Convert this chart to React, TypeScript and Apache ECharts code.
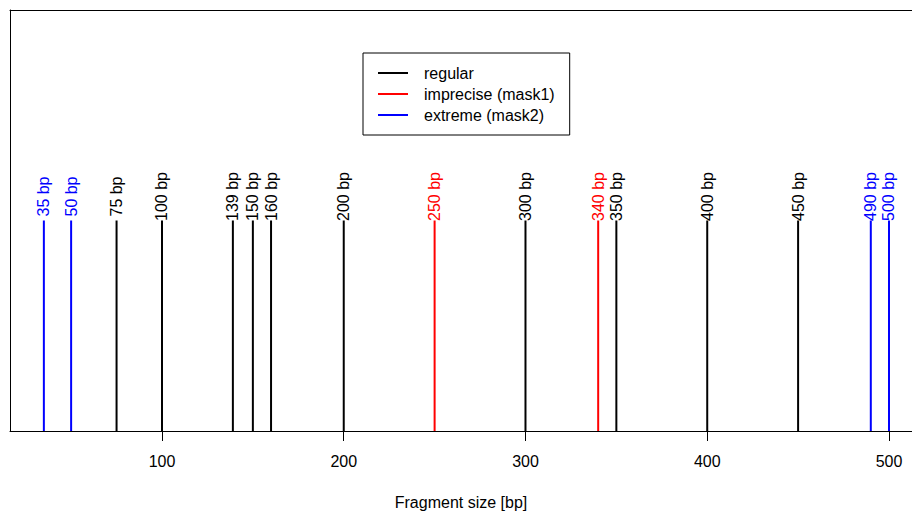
import React, { useEffect, useRef } from "react";
import * as echarts from "echarts";

const regularSizes = [75, 100, 139, 150, 160, 200, 300, 350, 400, 450];
const impreciseSizes = [250, 340];
const extremeSizes = [35, 50, 490, 500];
const markHeight = 1;
const tickValues = [100, 200, 300, 400, 500];
const seriesNames = ["regular", "imprecise (mask1)", "extreme (mask2)"];
const seriesColors = ["#000000", "#ff0000", "#0000ff"];
const FONT = '"Liberation Sans", Arial, Helvetica, sans-serif';
const X_MIN = 16.37;
const X_MAX = 512.67;

function makeSeries(name: string, color: string, sizes: number[]) {
  return {
    type: "custom",
    name,
    xAxisIndex: 0,
    yAxisIndex: 0,
    itemStyle: { color },
    data: sizes.map((s) => [s, markHeight]),
    renderItem: (params: any, api: any) => {
      const x = api.value(0);
      const top = api.coord([x, api.value(1)]);
      const base = api.coord([x, 0]);
      return {
        type: "group",
        children: [
          {
            type: "line",
            shape: { x1: base[0], y1: base[1], x2: top[0], y2: top[1] },
            style: { stroke: color, lineWidth: 2 },
          },
          {
            type: "text",
            x: top[0],
            y: top[1] - 24,
            rotation: Math.PI / 2,
            style: {
              text: `${x} bp`,
              fill: color,
              font: `16px ${FONT}`,
              align: "center",
              verticalAlign: "middle",
            },
          },
        ],
      };
    },
  };
}

export default function App() {
  const ref = useRef<HTMLDivElement>(null);
  useEffect(() => {
    if (!ref.current) return;
    const chart = echarts.init(ref.current, undefined, { renderer: "svg" });
    chart.setOption({
      animation: false,
      backgroundColor: "#ffffff",
      grid: {
        left: 10,
        top: 10,
        right: 0,
        bottom: 81,
        show: false,
      },
      legend: {
        orient: "vertical",
        left: 363,
        top: 53,
        padding: [12, 15, 12, 15],
        borderColor: "#000",
        borderWidth: 1,
        icon: "rect",
        itemWidth: 30,
        itemHeight: 2,
        itemGap: 5,
        selectedMode: false,
        data: seriesNames,
        textStyle: {
          color: "#000",
          fontSize: 16,
          fontFamily: FONT,
          lineHeight: 16,
          padding: [0, 0, 0, 11],
        },
      },
      xAxis: [
        {
          type: "value",
          position: "bottom",
          min: X_MIN,
          max: X_MAX,
          name: "Fragment size [bp]",
          nameLocation: "middle",
          nameGap: 63,
          nameTextStyle: { color: "#000", fontSize: 16, fontFamily: FONT },
          splitLine: { show: false },
          axisLine: { show: true, lineStyle: { color: "#000", width: 1 } },
          axisTick: {
            show: true,
            inside: false,
            length: 10,
            customValues: tickValues,
            lineStyle: { color: "#000", width: 1 },
          },
          axisLabel: {
            show: true,
            margin: 22,
            customValues: tickValues,
            color: "#000",
            fontSize: 16,
            fontFamily: FONT,
          },
        },
        {
          type: "value",
          position: "top",
          min: X_MIN,
          max: X_MAX,
          splitLine: { show: false },
          axisLine: { show: true, lineStyle: { color: "#000", width: 1 } },
          axisTick: { show: false },
          axisLabel: { show: false },
        },
      ],
      yAxis: {
        type: "value",
        min: 0,
        max: 2,
        position: "left",
        splitLine: { show: false },
        axisLine: { show: true, onZero: false, lineStyle: { color: "#000", width: 1 } },
        axisTick: { show: false },
        axisLabel: { show: false },
      },
      series: [
        makeSeries(seriesNames[0], seriesColors[0], regularSizes),
        makeSeries(seriesNames[1], seriesColors[1], impreciseSizes),
        makeSeries(seriesNames[2], seriesColors[2], extremeSizes),
      ],
    });
    return () => chart.dispose();
  }, []);
  return (
    <div
      ref={ref}
      style={{ position: "absolute", left: 0, top: 0, width: 912, height: 515 }}
    />
  );
}
